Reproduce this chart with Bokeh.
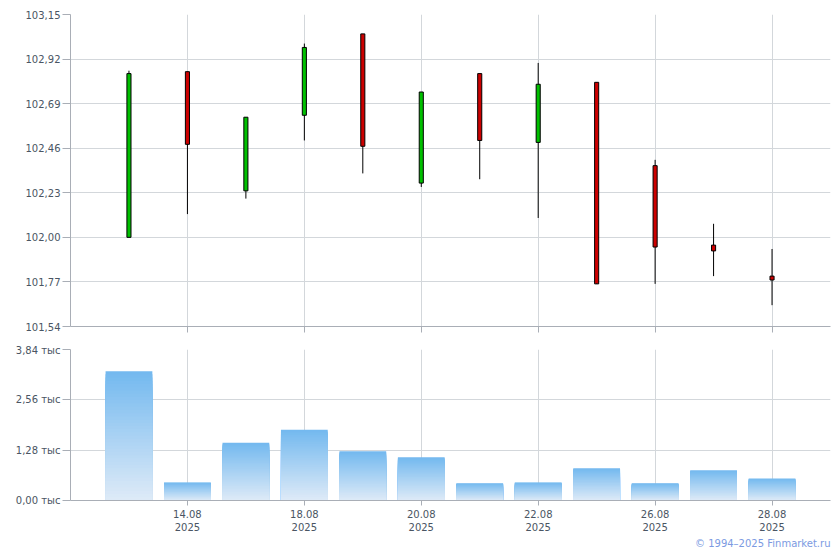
from bokeh.plotting import figure
from bokeh.layouts import column
from bokeh.models import Range1d, FixedTicker, Title, ColumnDataSource
from bokeh.embed import file_html
from bokeh.resources import INLINE

# ---- data ----
dates = ["13.08", "14.08", "15.08", "18.08", "19.08", "20.08",
         "21.08", "22.08", "25.08", "26.08", "27.08", "28.08"]
year = "2025"
opens = [102.00, 102.855, 102.24, 102.63, 103.05, 102.28,
         102.845, 102.49, 102.80, 102.37, 101.96, 101.80]
highs = [102.86, 102.855, 102.62, 103.00, 103.05, 102.75,
         102.845, 102.90, 102.80, 102.40, 102.07, 101.94]
lows = [102.00, 102.12, 102.20, 102.50, 102.33, 102.26,
        102.30, 102.10, 101.76, 101.76, 101.80, 101.65]
closes = [102.845, 102.48, 102.62, 102.98, 102.47, 102.75,
          102.50, 102.79, 101.76, 101.95, 101.93, 101.78]
volumes = [3.29, 0.46, 1.47, 1.80, 1.25, 1.10,
           0.44, 0.46, 0.82, 0.44, 0.77, 0.56]  # thousands

price_ticks = [101.54, 101.77, 102.00, 102.23, 102.46, 102.69, 102.92, 103.15]
price_labels = ["101,54", "101,77", "102,00", "102,23", "102,46", "102,69", "102,92", "103,15"]
vol_ticks = [0.0, 1.28, 2.56, 3.84]
vol_labels = ["0,00 тыс", "1,28 тыс", "2,56 тыс", "3,84 тыс"]
copyright_text = "© 1994–2025 Finmarket.ru"

# ---- styles ----
FONT = "DejaVu Sans"
LABEL_COLOR = "#4a5563"
AXIS_COLOR = "#a9aeb6"
GRID_COLOR = "#d3d7db"
UP = "#00c000"
DOWN = "#cc0000"
TOP_RGB = (0x74, 0xb9, 0xef)
BOT_RGB = (0xdd, 0xea, 0xf7)

n = len(dates)
xs = list(range(n))
date_ticks = [i for i in xs if i % 2 == 1]
date_overrides = {i: f"{dates[i]}\n{year}" for i in date_ticks}


def style_common(p):
    p.outline_line_color = None
    p.background_fill_color = "white"
    p.border_fill_color = "white"
    for ax in (p.xaxis[0], p.yaxis[0]):
        ax.axis_line_color = AXIS_COLOR
        ax.major_tick_line_color = AXIS_COLOR
        ax.minor_tick_line_color = None
        ax.major_tick_in = 0
        ax.major_label_text_font = FONT
        ax.major_label_text_font_size = "10px"
        ax.major_label_text_color = LABEL_COLOR
    p.yaxis[0].major_tick_out = 8
    p.yaxis[0].major_label_standoff = 2
    p.xgrid.grid_line_color = GRID_COLOR
    p.ygrid.grid_line_color = GRID_COLOR
    p.xaxis[0].ticker = FixedTicker(ticks=date_ticks)


# ---- price panel ----
p1 = figure(width=832, height=344, output_backend="svg", toolbar_location=None,
            x_range=Range1d(-1, n), y_range=Range1d(price_ticks[0], price_ticks[-1]),
            min_border_left=70, min_border_right=2, min_border_top=14, min_border_bottom=18)
style_common(p1)
p1.yaxis[0].ticker = FixedTicker(ticks=price_ticks)
p1.yaxis[0].major_label_overrides = dict(zip(price_ticks, price_labels))
p1.xaxis[0].major_tick_out = 6
p1.xaxis[0].major_label_overrides = {i: "" for i in date_ticks}
p1.xaxis[0].major_label_standoff = 0

src = ColumnDataSource(dict(
    x=xs, high=highs, low=lows,
    top=[max(o, c) for o, c in zip(opens, closes)],
    bottom=[min(o, c) for o, c in zip(opens, closes)],
    color=[UP if c >= o else DOWN for o, c in zip(opens, closes)],
))
p1.segment(x0="x", y0="high", x1="x", y1="low", source=src, line_color="black", line_width=1)
p1.vbar(x="x", top="top", bottom="bottom", width=0.07, source=src,
        fill_color="color", line_color="black", line_width=1)

# ---- volume panel ----
p2 = figure(width=832, height=204, output_backend="svg", toolbar_location=None,
            x_range=p1.x_range, y_range=Range1d(vol_ticks[0], vol_ticks[-1]),
            min_border_left=70, min_border_right=2, min_border_top=5, min_border_bottom=20)
style_common(p2)
p2.yaxis[0].ticker = FixedTicker(ticks=vol_ticks)
p2.yaxis[0].major_label_overrides = dict(zip(vol_ticks, vol_labels))
p2.xaxis[0].major_tick_out = 5
p2.xaxis[0].major_label_standoff = 3
p2.xaxis[0].major_label_overrides = date_overrides

N = 40
for k in range(N, 0, -1):
    t = (k - 1) / (N - 1)
    rgb = tuple(int(round(b + (a - b) * t)) for a, b in zip(TOP_RGB, BOT_RGB))
    col = "#%02x%02x%02x" % rgb
    p2.vbar(x=xs, top=[v * k / N for v in volumes], bottom=0, width=0.8,
            fill_color=col, line_color=None)

p2.add_layout(Title(text=copyright_text, align="right", text_font=FONT,
                    text_font_size="10px", text_font_style="normal",
                    text_color="#7b9ae2", standoff=0, offset=0), "below")

layout = column(p1, p2, spacing=0)
open("out.html", "w").write(file_html(layout, INLINE))
